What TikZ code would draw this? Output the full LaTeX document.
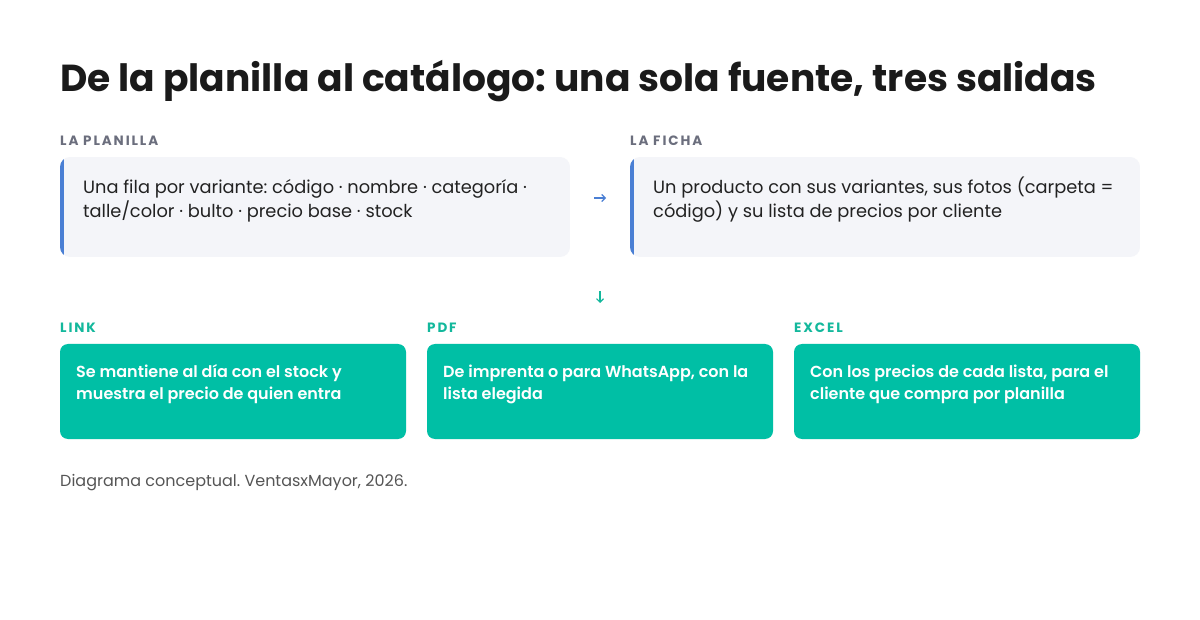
\documentclass[tikz,border=0pt]{standalone}
\usepackage{fontspec}
\setmainfont{Poppins}
\IfFontExistsTF{Poppins SemiBold}{\newfontfamily\semib{Poppins SemiBold}}{\newcommand\semib{\bfseries}}
\newfontfamily\labfont[LetterSpace=14]{Poppins}
\usetikzlibrary{arrows.meta}
\definecolor{titlec}{HTML}{1A1A1A}
\definecolor{labgray}{HTML}{6B6E7D}
\definecolor{boxbg}{HTML}{F4F5F9}
\definecolor{accblue}{HTML}{4A7FD4}
\definecolor{teal}{HTML}{00BFA5}
\definecolor{tealtxt}{HTML}{13B89C}
\definecolor{bodytxt}{HTML}{222222}
\definecolor{foot}{HTML}{555555}
\tikzset{
  x=1pt, y=-1pt,
  lab/.style={anchor=base west, inner sep=0pt, font=\labfont\fontsize{13.5}{15}\selectfont\bfseries},
  srctxt/.style={anchor=base west, inner sep=0pt, align=left, text=bodytxt, font=\fontsize{17.8}{24}\selectfont},
  outbox/.style={fill=teal, rounded corners=8pt},
  outtxt/.style={anchor=base west, inner sep=0pt, align=left, text=white, font=\fontsize{16}{22.5}\selectfont\semib},
  flow/.style={line width=1.1pt, -{Straight Barb[length=3.5pt,width=7pt]}},
}
\begin{document}
\frenchspacing
\begin{tikzpicture}
\useasboundingbox (0,0) rectangle (1200,620);
\fill[white] (0,0) rectangle (1200,620);
% title
\node[anchor=base west, inner sep=0pt, text=titlec, font=\fontsize{37.6}{44}\selectfont\bfseries] (title) at (60,92) {De la planilla al catálogo: una sola fuente, tres salidas};
% source boxes
\node[lab, text=labgray] (l1) at (60,146) {LA PLANILLA};
\node[lab, text=labgray] (l2) at (630,146) {LA FICHA};
\begin{scope}
\clip[rounded corners=10pt] (60,157) rectangle (570,257);
\fill[boxbg] (60,157) rectangle (570,257);
\fill[accblue] (60,157) rectangle (64,257);
\end{scope}
\node[inner sep=0pt, minimum width=510pt, minimum height=100pt] (b1) at (315,207) {};
\node[srctxt] (t1) at (83,218) {Una fila por variante: código · nombre · categoría ·\\talle/color · bulto · precio base · stock};
\begin{scope}
\clip[rounded corners=10pt] (630,157) rectangle (1140,257);
\fill[boxbg] (630,157) rectangle (1140,257);
\fill[accblue] (630,157) rectangle (634,257);
\end{scope}
\node[inner sep=0pt, minimum width=510pt, minimum height=100pt] (b2) at (885,207) {};
\node[srctxt] (t2) at (653,218) {Un producto con sus variantes, sus fotos (carpeta =\\código) y su lista de precios por cliente};
% arrows
\coordinate (a1s) at (594,198);
\coordinate (a1e) at (606,198);
\draw[flow, accblue] (a1s) -- (a1e);
\coordinate (a2s) at (600,291);
\coordinate (a2e) at (600,303);
\draw[flow, tealtxt] (a2s) -- (a2e);
% output labels
\node[lab, text=tealtxt] (o1) at (60,333) {LINK};
\node[lab, text=tealtxt] (o2) at (427,333) {PDF};
\node[lab, text=tealtxt] (o3) at (794,333) {EXCEL};
% output boxes
\fill[outbox] (60,344) rectangle (406,439);
\fill[outbox] (427,344) rectangle (773,439);
\fill[outbox] (794,344) rectangle (1140,439);
\node[inner sep=0pt, minimum width=346pt, minimum height=95pt] (ob1) at (233,391.5) {};
\node[inner sep=0pt, minimum width=346pt, minimum height=95pt] (ob2) at (600,391.5) {};
\node[inner sep=0pt, minimum width=346pt, minimum height=95pt] (ob3) at (967,391.5) {};
\node[outtxt] (ot1) at (76,399.5) {Se mantiene al día con el stock y\\muestra el precio de quien entra};
\node[outtxt] (ot2) at (443,399.5) {De imprenta o para WhatsApp, con la\\lista elegida};
\node[outtxt] (ot3) at (810,399.5) {Con los precios de cada lista, para el\\cliente que compra por planilla};
% footer
\node[anchor=base west, inner sep=0pt, text=foot, font=\fontsize{16}{20}\selectfont] (footer) at (60,486) {Diagrama conceptual. VentasxMayor, 2026.};
\end{tikzpicture}
\end{document}
